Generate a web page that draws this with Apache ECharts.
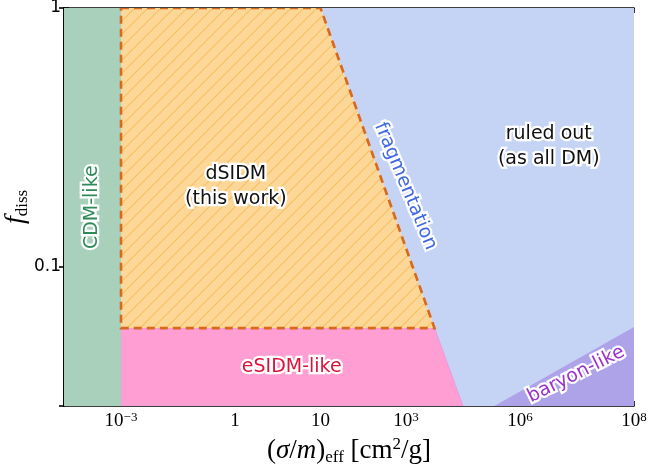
<!DOCTYPE html>
<html><head><meta charset="utf-8">
<script src="https://cdn.jsdelivr.net/npm/echarts@6/dist/echarts.min.js"></script>
<style>html,body{margin:0;padding:0;background:#fff}#c{width:648px;height:471px}</style>
</head><body><div id="c"></div>
<script>
// x axis: hand-placed decade ticks; values below are in tick-slot units of the axis
const xTickPos = [2, 6, 9, 12, 16, 20];
const xTickExp = ['-3', '0', '1', '3', '6', '8'];
const yMin = 0.029, yMax = 1;
// region outlines [x slot, f_diss]
const cdmRegion = [[0, 1], [2, 1], [2, 0.029], [0, 0.029]];
const dsidmRegion = [[2, 1], [9, 1], [13, 0.058], [2, 0.058]];
const esidmRegion = [[2, 0.058], [13, 0.058], [14, 0.029], [2, 0.029]];
const ruledOutRegion = [[9, 1], [20, 1], [20, 0.029], [14, 0.029], [13, 0.058]];
const baryonRegion = [[15.1, 0.029], [20, 0.0585], [20, 0.029]];
// annotations
const labelTexts = ['CDM-like', 'dSIDM\n(this work)', 'fragmentation', 'ruled out\n(as all DM)', 'eSIDM-like', 'baryon-like'];
const labelX = [0.97, 6.03, 11.98, 17.01, 7.99, 17.97];
const labelY = [0.170, 0.2046, 0.205, 0.292, 0.0410, 0.0384];

const labelColors = ['#2e8b57', '#111', '#4169e1', '#111', '#dc143c', '#9b32d0'];
const labelRot = [90, 0, -67.5, 0, 0, 26.5];

function hatchPattern() {
  const s = 13;
  const c = document.createElement('canvas');
  c.width = s; c.height = s;
  const g = c.getContext('2d');
  g.fillStyle = '#fdd797'; g.fillRect(0, 0, s, s);
  g.strokeStyle = '#f7bf62'; g.lineWidth = 1.1;
  g.beginPath();
  g.moveTo(-1, s + 1); g.lineTo(s + 1, -1);
  g.moveTo(-s / 2 - 1, s / 2 + 1); g.lineTo(s / 2 + 1, -s / 2 - 1);
  g.moveTo(s / 2 - 1, 1.5 * s + 1); g.lineTo(1.5 * s + 1, s / 2 - 1);
  g.stroke();
  return c;
}
const hatch = hatchPattern();

function regionSeries(name, pts, style, z) {
  return {
    type: 'custom', name: name, coordinateSystem: 'cartesian2d', clip: true, z: z, silent: true,
    data: [0],
    renderItem: function (params, api) {
      return { type: 'polygon', shape: { points: pts.map(p => api.coord(p)) }, style: style };
    }
  };
}

const chart = echarts.init(document.getElementById('c'), null, { renderer: 'canvas' });
const serif = '"Liberation Serif", "DejaVu Serif", serif';
const handFont = '"DejaVu Sans", sans-serif';

const labelSeries = {
  type: 'custom', coordinateSystem: 'cartesian2d', z: 10, silent: true,
  data: labelTexts.map((t, i) => [labelX[i], labelY[i], i]),
  renderItem: function (params, api) {
    const i = api.value(2);
    const p = api.coord([api.value(0), api.value(1)]);
    const base = {
      text: labelTexts[i], font: '19px ' + handFont,
      align: 'center', verticalAlign: 'middle', lineHeight: 25
    };
    return {
      type: 'group', x: p[0], y: p[1], rotation: labelRot[i] * Math.PI / 180,
      children: [
        { type: 'text', style: Object.assign({}, base, { fill: '#fff', stroke: '#fff', lineWidth: 4.5 }) },
        { type: 'text', style: Object.assign({}, base, { fill: labelColors[i] }) }
      ]
    };
  }
};

const axisLineStyle = { color: '#000', width: 1.6 };
chart.setOption({
  animation: false,
  grid: { left: 64, right: 14, top: 8, bottom: 65, containLabel: false, outerBoundsMode: 'none' },
  xAxis: [{
    type: 'value', min: 0, max: 20, position: 'bottom',
    axisLine: { show: true, lineStyle: axisLineStyle },
    axisTick: { show: true, inside: true, length: 5, lineStyle: axisLineStyle, customValues: xTickPos },
    axisLabel: {
      customValues: xTickPos, margin: 5,
      formatter: function (v) {
        const i = xTickPos.indexOf(v);
        const e = xTickExp[i];
        if (e === '0') return '{b|1}';
        if (e === '1') return '{b|10}';
        return '{b|10}{s|' + e.replace('-', '\u2212') + '}';
      },
      rich: {
        b: { fontFamily: serif, fontSize: 19, color: '#000', lineHeight: 21 },
        s: { fontFamily: serif, fontSize: 13, color: '#000', lineHeight: 13, verticalAlign: 'top' }
      }
    },
    splitLine: { show: false },
    name: '{n|(}{i|\u03c3}{n|/}{i|m}{n|)}{sub|eff}{n| [cm}{sup|2}{n|/g]}',
    nameLocation: 'middle', nameGap: 24,
    nameTextStyle: {
      rich: {
        n: { fontFamily: serif, fontSize: 27, color: '#000', lineHeight: 30 },
        i: { fontFamily: serif, fontSize: 27, fontStyle: 'italic', color: '#000', lineHeight: 30 },
        sub: { fontFamily: serif, fontSize: 17, color: '#000', lineHeight: 17, verticalAlign: 'bottom' },
        sup: { fontFamily: serif, fontSize: 17, color: '#000', lineHeight: 17, verticalAlign: 'top' }
      }
    }
  }, {
    type: 'value', min: 0, max: 20, position: 'top',
    axisLine: { show: true, lineStyle: axisLineStyle },
    axisTick: { show: true, inside: true, length: 5, lineStyle: axisLineStyle, customValues: xTickPos },
    axisLabel: { show: false }, splitLine: { show: false }
  }],
  yAxis: [{
    type: 'log', min: yMin, max: yMax, position: 'left', logBase: 10,
    axisLine: { show: true, lineStyle: axisLineStyle },
    axisTick: { show: true, inside: true, length: 5, lineStyle: axisLineStyle },
    axisLabel: {
      showMinLabel: false, margin: 3, color: '#000', fontFamily: handFont, fontSize: 17,
      formatter: function (v) { return String(Number(v.toPrecision(3))); }
    },
    splitLine: { show: false },
    name: '{i|f}{sub|diss}', nameLocation: 'middle', nameGap: 33, nameRotate: 90,
    nameMoveOverlap: false,
    nameTextStyle: {
      rich: {
        i: { fontFamily: serif, fontSize: 28, fontStyle: 'italic', color: '#000', lineHeight: 30 },
        sub: { fontFamily: serif, fontSize: 17, color: '#000', lineHeight: 17, verticalAlign: 'bottom' }
      }
    }
  }, {
    type: 'log', min: yMin, max: yMax, position: 'right', logBase: 10,
    axisLine: { show: true, lineStyle: axisLineStyle },
    axisTick: { show: true, inside: true, length: 5, lineStyle: axisLineStyle },
    axisLabel: { show: false }, splitLine: { show: false }
  }],
  series: [
    regionSeries('ruled out', ruledOutRegion, { fill: '#c5d3f4', stroke: '#c5d3f4', lineWidth: 0.5 }, 1),
    regionSeries('baryon-like', baryonRegion, { fill: '#aea3e8' }, 2),
    regionSeries('eSIDM-like', esidmRegion, { fill: '#fe9ed2', stroke: '#e79be0', lineWidth: 1 }, 3),
    regionSeries('dSIDM', dsidmRegion, { fill: { image: hatch, repeat: 'repeat' } }, 4),
    regionSeries('CDM-like', cdmRegion, { fill: '#a8d0ba' }, 5),
    regionSeries('dSIDM edge', dsidmRegion, { fill: null, stroke: '#d8691e', lineWidth: 2.6, lineDash: [8, 5] }, 6),
    labelSeries
  ]
});
</script></body></html>
